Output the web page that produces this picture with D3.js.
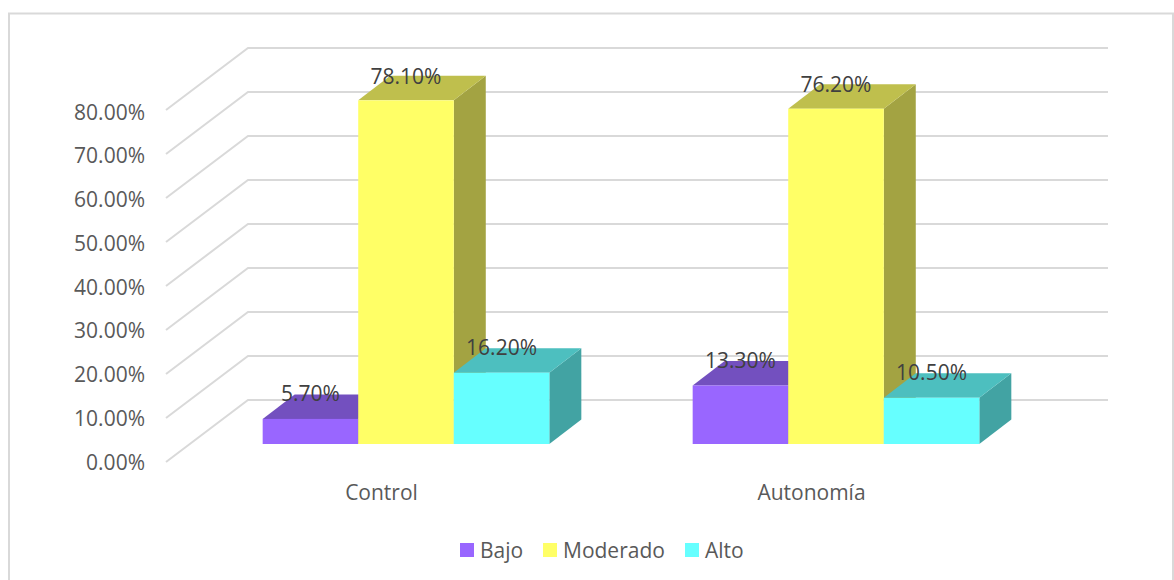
<!DOCTYPE html>
<html>
<head>
<meta charset="utf-8">
<script src="https://cdn.jsdelivr.net/npm/d3@7"></script>
<style>
  html, body { margin: 0; padding: 0; background: #fff; overflow: hidden; }
  text { font-family: "Open Sans", sans-serif; }
</style>
</head>
<body>
<div id="chart"></div>
<script>
var categories = ["Control", "Autonomía"]
var seriesNames = ["Bajo", "Moderado", "Alto"]
var bajo = [5.7, 13.3]
var moderado = [78.1, 76.2]
var alto = [16.2, 10.5]
var allSeries = [bajo, moderado, alto]
var yTicks = [0, 10, 20, 30, 40, 50, 60, 70, 80]

var frontColors = ["#9966ff", "#ffff66", "#66ffff"]
var topColors = ["#7350bf", "#bfbf4d", "#4dbfbf"]
var sideColors = ["#63429f", "#a3a342", "#42a3a3"]

var width = 1174, height = 580
var fontSize = "21px"

// floor depth of the 3D box, and depth of a single column
var wallDx = 82, wallDy = 62
var barDx = 32, barDy = 24.5
var barInsetY = 18, barInsetX = 25

// Scales
var yScale = d3.scaleLinear().domain([0, 80]).range([462, 110])
// text sits on a slightly tighter scale than the gridlines
var labelScale = d3.scaleLinear().domain([0, 80]).range([463.5, 113.5])
var xScale = d3.scaleBand().domain(categories).range([166, 1026])
var xInner = d3.scaleBand().domain(seriesNames).range([0, xScale.bandwidth()]).paddingOuter(0.75)

var svg = d3.select("#chart").append("svg")
    .attr("width", width)
    .attr("height", height)

// chart frame, runs off the bottom and right of the picture
svg.append("path")
    .attr("d", "M9,580V13.5H1173V580")
    .attr("fill", "none")
    .attr("stroke", "#d9d9d9")
    .attr("stroke-width", 2)

// Gridlines: side wall then back wall
var grid = svg.append("g")
grid.selectAll("path").data(yTicks).enter().append("path")
    .attr("d", function(d) {
      var y = yScale(d)
      return "M" + xScale.range()[0] + "," + y + "L" + (xScale.range()[0] + wallDx) + "," + (y - wallDy) + "H" + (xScale.range()[1] + wallDx)
    })
    .attr("fill", "none")
    .attr("stroke", "#d9d9d9")
    .attr("stroke-width", 2)

// Y axis labels
var yAxis = d3.axisLeft(labelScale).tickValues(yTicks).tickSize(0).tickPadding(0)
    .tickFormat(function(d) { return d.toFixed(2) + "%" })
var yA = svg.append("g").attr("transform", "translate(145,0)").call(yAxis)
yA.select(".domain").remove()
yA.selectAll("text")
    .attr("dy", null)
    .attr("dominant-baseline", "middle")
    .style("font-family", "'Open Sans', sans-serif")
    .style("font-size", fontSize)
    .style("fill", "#595959")

// Columns
var base = yScale(0) - barInsetY
function h(v) { return yScale(0) - yScale(v) }

var bars = svg.append("g")
var labels = []
categories.forEach(function(cat, c) {
  seriesNames.forEach(function(name, s) {
    var v = allSeries[s][c]
    var x0 = xScale(cat) + barInsetX + xInner(name)
    var w = xInner.bandwidth()
    var top = base - h(v)
    var g = bars.append("g")

    g.append("polygon")
        .attr("points", [[x0 + w, top], [x0 + w + barDx, top - barDy], [x0 + w + barDx, base - barDy], [x0 + w, base]].join(" "))
        .attr("fill", sideColors[s])
    g.append("polygon")
        .attr("points", [[x0, top], [x0 + barDx, top - barDy], [x0 + w + barDx, top - barDy], [x0 + w, top]].join(" "))
        .attr("fill", topColors[s])
    g.append("rect")
        .attr("x", x0).attr("y", top)
        .attr("width", w).attr("height", base - top)
        .attr("fill", frontColors[s])

    labels.push({x: x0 + w / 2, y: labelScale(v) - 43.3, text: v.toFixed(2) + "%"})
  })
})

// Data labels go over all the columns
svg.append("g").selectAll("text").data(labels).enter().append("text")
    .attr("x", function(d) { return d.x })
    .attr("y", function(d) { return d.y })
    .attr("text-anchor", "middle")
    .attr("dominant-baseline", "middle")
    .style("font-size", fontSize)
    .style("fill", "#404040")
    .text(function(d) { return d.text })

// Category labels
svg.append("g").selectAll("text").data(categories).enter().append("text")
    .attr("x", function(d) { return xScale(d) + xScale.bandwidth() / 2 + 0.5 })
    .attr("y", 494.5)
    .attr("text-anchor", "middle")
    .attr("dominant-baseline", "middle")
    .style("font-size", fontSize)
    .style("fill", "#595959")
    .text(function(d) { return d })

// Legend
var legendX = [460, 543, 685]
var legend = svg.append("g").selectAll("g").data(seriesNames).enter().append("g")
    .attr("transform", function(d, i) { return "translate(" + legendX[i] + ",543)" })
legend.append("rect")
    .attr("width", 14).attr("height", 14)
    .attr("fill", function(d, i) { return frontColors[i] })
legend.append("text")
    .attr("x", 20).attr("y", 9)
    .attr("dominant-baseline", "middle")
    .style("font-size", fontSize)
    .style("fill", "#595959")
    .text(function(d) { return d })
</script>
</body>
</html>
